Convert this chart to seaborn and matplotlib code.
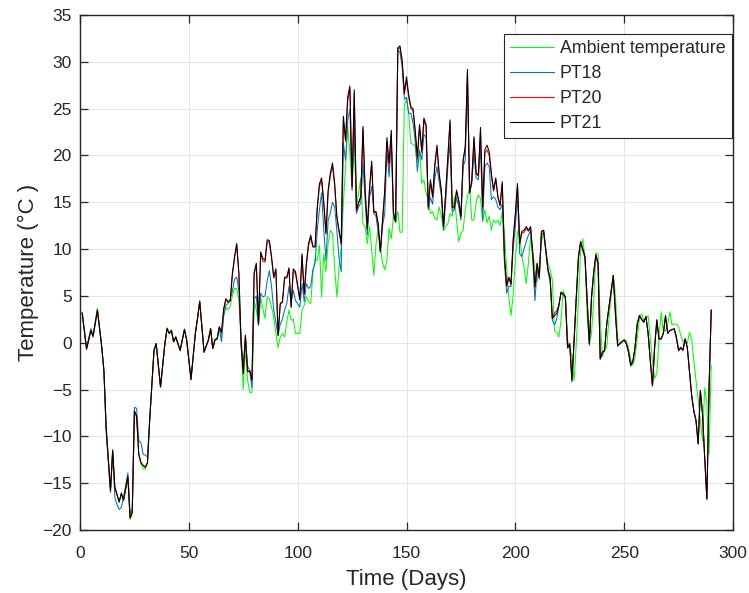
import matplotlib
matplotlib.use("Agg")
import matplotlib.pyplot as plt
import numpy as np
import pandas as pd
import seaborn as sns

# ---------------- data ----------------
days = [1, 3, 4, 5, 6, 8, 10, 11, 12, 14,
        15, 16, 17, 18, 19, 20, 22, 23, 24, 25,
        26, 27, 28, 29, 30, 31, 32, 34, 35, 37,
        39, 40, 41, 42, 43, 44, 46, 48, 49, 51,
        53, 54, 55, 57, 59, 60, 61, 62, 63, 64,
        65, 66, 67, 68, 69, 70, 71, 72, 73, 74,
        75, 76, 77, 78, 79, 80, 81, 82, 83, 84,
        85, 86, 87, 88, 89, 90, 91, 92, 93, 94,
        95, 96, 97, 98, 99] + list(range(101, 291))

ambient = [3.3, -0.6, 0.3, 1.4, 0.9, 3.7, -0.5, -3.0, -9.0, -15.8,
           -11.4, -15.5, -16.3, -17.0, -16.0, -16.9, -14.5, -18.9, -18.3, -7.5,
           -8.0, -12.0, -13.0, -13.4, -13.5, -12.9, -8.4, -0.8, -0.2, -4.8,
           0.0, 1.6, 1.0, 1.4, 0.1, 0.7, -0.9, 1.5, 0.3, -4.0,
           1.0, 2.7, 4.5, -1.0, 0.3, 1.5, -0.7, 0.4, 0.5, 1.5,
           0.6, 2.8, 3.8, 3.5, 3.9, 5.0, 5.8, 5.8, 4.5, 0.0,
           -5.0, -0.5, -4.0, -5.3, -5.3, 4.5, 3.5, 1.8, 4.9, 3.6,
           2.6, 4.9, 4.7, 3.8, 2.7, 1.0, -0.5, 0.6, 1.0, 0.6,
           2.2, 3.5, 2.4, 2.5, 1.0,
           1.0, 3.5, 4.0, 4.9, 4.4, 4.2, 7.4, 9.0, 8.8, 10.4,
           4.9, 9.5, 7.6, 10.6, 12.0, 11.7, 8.0, 4.9, 8.0, 10.3,
           14.9, 18.8, 23.1, 20.2, 16.3, 22.0, 14.5, 16.0, 17.6, 12.7,
           12.4, 10.6, 12.4, 9.9, 7.2, 10.6, 12.0, 10.3, 8.5, 7.8,
           8.8, 12.2, 11.1, 13.5, 12.9, 14.0, 11.8, 11.8, 25.4, 26.0,
           24.5, 21.3, 21.2, 21.0, 19.2, 20.6, 17.0, 17.4, 16.0, 15.2,
           13.8, 14.0, 13.3, 13.1, 14.5, 13.6, 12.0, 12.4, 12.7, 13.8,
           13.5, 15.6, 13.1, 10.8, 11.7, 12.0, 14.2, 15.6, 16.7, 13.1,
           13.1, 15.0, 15.8, 15.4, 12.9, 14.2, 12.8, 13.5, 12.0, 13.1,
           12.8, 13.1, 12.5, 14.0, 11.7, 7.8, 4.9, 2.9, 5.1, 8.8,
           11.9, 11.7, 9.2, 8.1, 6.3, 8.5, 11.3, 9.9, 7.8, 6.5,
           8.1, 10.6, 11.9, 9.9, 8.5, 7.8, 6.7, 1.3, 1.1, 0.6,
           2.4, 5.6, 4.9, 0.3, -0.5, -1.5, -4.0, -0.1, 4.5, 9.9,
           11.1, 9.1, 2.8, -0.1, 1.0, 4.5, 9.6, 9.5, 2.4, -1.5,
           -0.8, -0.5, 2.5, 5.0, 7.2, 5.0, 0.5, -0.2, 0.1, 0.3,
           0.2, -0.5, -1.8, -2.4, -1.5, 0.5, 2.5, 3.1, 2.4, 2.6,
           2.9, 0.5, -2.0, -3.8, -3.3, 0.4, 3.3, 1.1, 1.3, 2.0,
           3.3, 1.9, 2.0, 2.0, 1.7, 0.8, 0.1, 0.3, -0.1, 1.1,
           0.4, -1.9, -4.0, -6.1, -8.3, -10.5, -4.8, -6.5, -11.9, -2.4]

pt18 = [3.1, -0.5, 0.5, 1.5, 0.6, 3.4, -0.4, -3.2, -9.5, -16.0,
        -11.8, -16.5, -17.3, -17.8, -17.6, -16.5, -13.9, -18.2, -17.8, -6.9,
        -7.0, -10.4, -10.7, -11.9, -12.0, -12.2, -8.3, -0.8, -0.1, -4.7,
        -0.1, 1.5, 1.0, 1.3, 0.1, 0.6, -0.8, 1.4, 0.3, -3.9,
        1.0, 2.6, 4.4, -1.0, 0.3, 1.5, -0.6, 0.3, 0.4, 1.6,
        0.1, 2.9, 4.0, 4.2, 4.6, 5.5, 6.8, 7.0, 5.5, 0.5,
        -2.3, 0.5, -2.5, -3.0, -4.8, 4.7, 5.0, 1.9, 5.3, 4.9,
        5.0, 6.6, 7.7, 6.0, 3.5, 2.2, 0.8, 2.0, 2.5, 3.5,
        4.2, 6.0, 4.4, 5.6, 4.5,
        3.8, 6.3, 4.4, 6.3, 5.8, 6.0, 7.8, 8.5, 12.0, 14.2,
        16.0, 12.0, 8.8, 13.1, 13.8, 15.0, 14.5, 12.0, 9.0, 7.6,
        21.3, 19.5, 23.8, 24.9, 16.3, 23.8, 13.8, 14.5, 14.9, 19.2,
        15.2, 11.5, 15.5, 16.7, 13.8, 13.5, 11.8, 9.7, 12.5, 13.8,
        20.6, 17.7, 21.6, 13.3, 12.9, 31.3, 31.0, 29.5, 26.0, 26.2,
        24.5, 24.5, 23.5, 21.5, 18.3, 20.5, 19.5, 22.2, 22.0, 14.2,
        15.5, 14.8, 17.5, 18.8, 17.2, 15.7, 12.0, 15.0, 18.8, 21.3,
        14.0, 14.2, 15.5, 14.5, 13.1, 18.8, 19.5, 27.8, 16.0, 17.0,
        20.2, 17.6, 17.4, 21.0, 13.1, 18.8, 19.2, 18.8, 15.3, 15.6,
        15.3, 14.5, 14.2, 14.8, 8.5, 5.3, 6.0, 6.0, 10.0, 12.4,
        15.6, 9.5, 9.2, 10.0, 10.8, 11.5, 12.0, 9.0, 4.5, 7.8,
        6.8, 11.5, 11.8, 9.8, 7.6, 6.5, 2.4, 1.9, 2.5, 3.9,
        5.3, 5.1, 4.7, -0.6, -0.3, -4.2, 0.2, 4.8, 9.0, 10.7,
        9.8, 9.0, 4.3, -0.3, 4.7, 7.4, 9.2, 8.4, -1.8, -1.1,
        -0.9, 2.0, 3.7, 5.4, 7.1, 3.0, -0.4, -0.1, 0.1, 0.3,
        -0.1, -1.0, -2.5, -2.0, -0.5, 2.0, 2.9, 2.5, 2.2, 2.7,
        1.0, -1.9, -4.6, -0.4, 2.5, 0.4, 0.4, 1.0, 2.8, 1.0,
        1.3, 1.4, 1.4, 0.4, -0.9, -0.6, -0.8, 0.4, -0.5, -3.0,
        -5.6, -7.3, -8.3, -10.8, -5.1, -7.6, -12.3, -16.7, -4.8, 3.5]

pt20 = [3.2, -0.7, 0.3, 1.3, 0.7, 3.5, -0.5, -3.0, -9.0, -15.8,
        -11.5, -15.4, -16.2, -17.0, -16.1, -16.8, -14.3, -18.7, -18.1, -7.3,
        -7.8, -11.9, -12.8, -13.1, -13.3, -12.8, -8.3, -0.8, -0.1, -4.7,
        -0.1, 1.5, 1.0, 1.3, 0.1, 0.6, -0.8, 1.4, 0.3, -3.9,
        1.0, 2.6, 4.4, -1.0, 0.3, 1.5, -0.6, 0.3, 0.4, 1.7,
        1.1, 3.5, 4.6, 4.3, 4.4, 7.2, 9.0, 10.4, 7.3, -0.1,
        -3.3, 0.8, -3.1, -3.0, -4.0, 7.3, 8.3, 2.0, 9.5, 8.7,
        8.6, 10.8, 10.7, 9.0, 6.9, 7.7, 0.8, 4.1, 4.3, 6.9,
        6.9, 7.8, 3.8, 7.7, 7.4,
        4.6, 9.3, 5.2, 8.3, 10.4, 11.2, 10.2, 10.2, 14.2, 16.7,
        17.3, 14.8, 11.6, 16.0, 17.8, 18.9, 16.8, 13.3, 11.9, 10.5,
        23.8, 21.5, 25.9, 27.0, 16.6, 26.6, 14.1, 14.9, 15.5, 22.8,
        16.1, 12.1, 16.3, 19.0, 13.9, 13.9, 12.6, 9.7, 13.0, 16.0,
        21.5, 18.7, 22.3, 13.8, 12.9, 31.4, 31.5, 30.0, 26.5, 28.0,
        26.2, 25.0, 24.8, 22.5, 19.6, 23.0, 20.3, 23.7, 23.0, 14.4,
        17.2, 15.5, 18.8, 20.8, 17.9, 16.2, 12.4, 15.9, 19.6, 23.5,
        14.4, 14.4, 16.2, 15.1, 13.4, 19.3, 20.8, 28.9, 16.0, 17.3,
        21.8, 18.0, 17.8, 22.7, 14.3, 20.3, 20.6, 20.0, 17.8, 16.2,
        17.4, 15.5, 14.6, 17.0, 9.1, 6.0, 6.9, 6.2, 10.9, 13.6,
        16.8, 10.5, 11.7, 11.8, 12.2, 11.9, 12.3, 9.4, 5.8, 8.4,
        7.0, 11.9, 12.0, 9.9, 7.8, 6.9, 2.6, 3.2, 3.4, 4.0,
        5.4, 5.2, 4.9, -0.5, -0.1, -4.0, 0.3, 4.9, 9.2, 10.8,
        10.0, 9.2, 4.5, -0.1, 4.9, 7.5, 9.4, 8.5, -1.7, -1.0,
        -0.8, 2.0, 3.8, 5.5, 7.2, 3.1, -0.3, -0.1, 0.1, 0.3,
        -0.1, -1.0, -2.4, -2.0, -0.5, 2.0, 2.9, 2.5, 2.2, 2.8,
        1.0, -1.9, -4.6, -0.5, 2.4, 0.4, 0.4, 1.0, 2.9, 1.0,
        1.3, 1.4, 1.5, 0.6, -0.8, -0.5, -0.8, 0.4, -0.5, -3.0,
        -5.6, -7.3, -8.3, -10.8, -5.1, -7.6, -12.3, -16.7, -4.8, 3.5]

pt21 = [3.2, -0.7, 0.3, 1.3, 0.7, 3.5, -0.5, -3.0, -9.0, -15.8,
        -11.5, -15.4, -16.2, -17.0, -16.1, -16.8, -14.3, -18.7, -18.1, -7.3,
        -7.8, -11.9, -12.8, -13.1, -13.3, -12.8, -8.3, -0.8, -0.1, -4.7,
        -0.1, 1.5, 1.0, 1.3, 0.1, 0.6, -0.8, 1.4, 0.3, -3.9,
        1.0, 2.6, 4.4, -1.0, 0.3, 1.5, -0.6, 0.3, 0.4, 1.7,
        1.1, 3.6, 4.7, 4.4, 4.5, 7.4, 9.2, 10.6, 7.4, -0.1,
        -3.3, 0.8, -3.1, -3.0, -4.0, 7.5, 8.5, 2.0, 9.7, 9.0,
        8.8, 11.0, 10.9, 9.2, 7.0, 7.9, 0.8, 4.2, 4.4, 7.0,
        7.0, 8.0, 3.8, 7.9, 7.6,
        4.6, 9.5, 5.2, 8.5, 10.6, 11.5, 10.3, 10.3, 14.5, 17.0,
        17.6, 15.0, 11.7, 16.3, 18.1, 19.2, 17.0, 13.5, 12.0, 10.6,
        24.2, 21.7, 26.3, 27.4, 16.7, 27.0, 14.2, 15.0, 15.6, 23.1,
        16.3, 12.2, 16.5, 19.4, 14.0, 14.0, 12.7, 9.7, 13.1, 16.3,
        21.9, 19.2, 22.7, 14.0, 12.9, 31.5, 31.7, 30.2, 26.7, 28.4,
        26.5, 25.2, 25.0, 22.7, 19.9, 23.3, 20.5, 24.0, 23.3, 14.5,
        17.4, 15.6, 19.0, 21.1, 18.1, 16.3, 12.4, 16.0, 19.9, 23.8,
        14.5, 14.5, 16.3, 15.2, 13.5, 19.5, 21.0, 29.2, 16.0, 17.4,
        22.0, 18.1, 17.9, 23.0, 14.5, 20.6, 21.1, 20.4, 18.1, 16.3,
        17.6, 15.6, 14.7, 17.2, 9.2, 6.1, 7.0, 6.3, 11.0, 13.8,
        17.0, 10.6, 11.9, 12.0, 12.4, 12.0, 12.4, 9.5, 6.0, 8.5,
        7.0, 11.9, 12.0, 9.9, 7.8, 6.9, 2.6, 2.9, 3.1, 4.0,
        5.4, 5.2, 4.9, -0.5, -0.1, -4.0, 0.3, 4.9, 9.2, 10.8,
        10.0, 9.2, 4.5, -0.1, 4.9, 7.5, 9.4, 8.5, -1.7, -1.0,
        -0.8, 2.0, 3.8, 5.5, 7.2, 3.1, -0.3, -0.1, 0.1, 0.3,
        -0.1, -1.0, -2.4, -2.0, -0.5, 2.0, 2.9, 2.5, 2.2, 2.8,
        1.0, -1.9, -4.6, -0.5, 2.4, 0.4, 0.4, 1.0, 2.9, 1.0,
        1.3, 1.4, 1.5, 0.6, -0.8, -0.5, -0.8, 0.4, -0.5, -3.0,
        -5.6, -7.3, -8.3, -10.8, -5.1, -7.6, -12.3, -16.7, -4.8, 3.5]

series_names = ["Ambient temperature", "PT18", "PT20", "PT21"]
series_colors = ["#00FF00", "#0072BD", "#FF0000", "#000000"]

# ---------------- build tidy frame ----------------
frames = []
for name, vals in zip(series_names, [ambient, pt18, pt20, pt21]):
    frames.append(pd.DataFrame({"Time": days, "Temperature": vals, "Series": name}))
df = pd.concat(frames, ignore_index=True)

sns.set_theme(style="whitegrid")
plt.rcParams["font.family"] = ["Liberation Sans", "DejaVu Sans"]

fig = plt.figure(figsize=(7.49, 5.93), dpi=100)
ax = fig.add_axes([80 / 749, 1 - 530 / 593, 653 / 749, 515 / 593])

sns.lineplot(data=df, x="Time", y="Temperature", hue="Series",
             hue_order=series_names, palette=dict(zip(series_names, series_colors)),
             estimator=None, sort=False, linewidth=0.75, ax=ax)

ax.set_xlim(0, 300)
ax.set_ylim(-20, 35)
ax.set_xticks(range(0, 301, 50))
ax.set_yticks(range(-20, 36, 5))
ax.set_facecolor("white")
ax.grid(True, color="#e0e0e0", linewidth=0.6)
for s in ax.spines.values():
    s.set_visible(True)
    s.set_color("#262626")
    s.set_linewidth(1.0)
ax.tick_params(direction="in", length=5.5, width=0.9, bottom=True, left=True,
               top=True, right=True, labelsize=12.5, colors="#262626")
ax.tick_params(axis="x", pad=11.5)
ax.tick_params(axis="y", pad=6)
ax.set_xlabel("Time (Days)", fontsize=16, color="#262626", labelpad=6)
ax.set_ylabel("Temperature (°C )", fontsize=16, color="#262626", labelpad=2)

handles, labels = ax.get_legend_handles_labels()
for h in handles:
    h.set_linewidth(0.8)
leg = ax.legend(handles, labels, loc="upper right", bbox_to_anchor=(0.998, 0.963),
                frameon=True, fancybox=False, edgecolor="#262626", facecolor="white",
                framealpha=1, fontsize=12.8, handlelength=2.45, handletextpad=0.35,
                labelspacing=0.45, borderpad=0.35, borderaxespad=0)
leg.get_frame().set_linewidth(0.8)
for t in leg.get_texts():
    t.set_color("#262626")

fig.savefig("out.png", dpi=100)
